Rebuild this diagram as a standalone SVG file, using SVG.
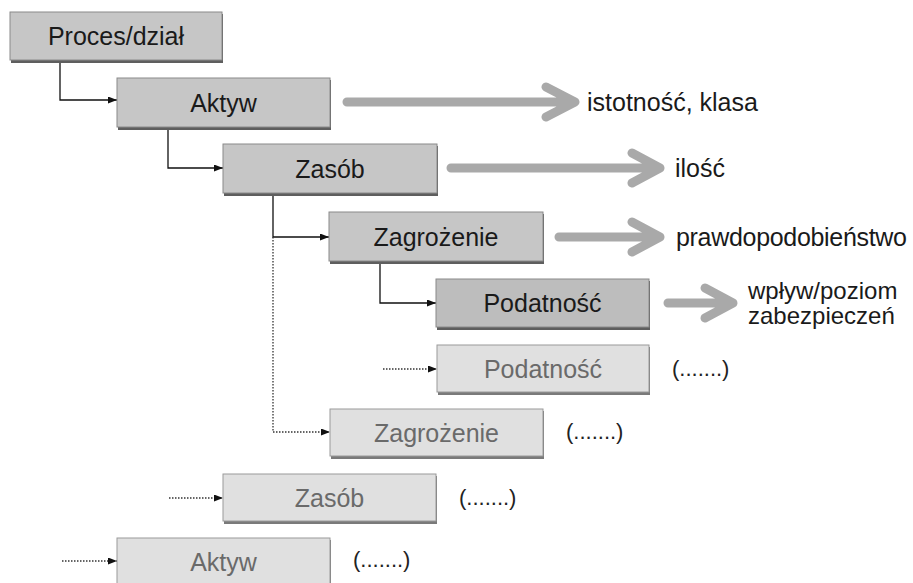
<svg xmlns="http://www.w3.org/2000/svg" width="913" height="583" viewBox="0 0 913 583">
<defs>
<style>
.box{fill:#c6c6c6;stroke:#8a8a8a;stroke-width:1}
.boxd{fill:#bdbdbd;stroke:#8a8a8a;stroke-width:1}
.boxf{fill:#e0e0e0;stroke:#9a9a9a;stroke-width:1}
.shadow{fill:#5e5e5e}
.shadowf{fill:#7a7a7a}
.t{font-family:"Liberation Sans",Arial,sans-serif;font-size:25px;fill:#1a1a1a;text-anchor:middle}
.tf{font-family:"Liberation Sans",Arial,sans-serif;font-size:25px;fill:#6a6a6a;text-anchor:middle}
.lbl{font-family:"Liberation Sans",Arial,sans-serif;font-size:25px;fill:#1a1a1a}
.lbl2{font-family:"Liberation Sans",Arial,sans-serif;font-size:24px;fill:#1a1a1a}
.dots{font-family:"Liberation Sans",Arial,sans-serif;font-size:22px;fill:#222}
.c{fill:none;stroke:#111;stroke-width:1.3}
.cd{fill:none;stroke:#333;stroke-width:1.3;stroke-dasharray:1.5 1.5}
.big{fill:none;stroke:#a9a9a9;stroke-width:9;stroke-linecap:round;stroke-linejoin:round}
</style>
<marker id="ah" markerWidth="9" markerHeight="7" refX="9" refY="3.5" orient="auto" markerUnits="userSpaceOnUse">
<path d="M0,0 L9,3.5 L0,7 z" fill="#111"/>
</marker>
</defs>
<rect width="913" height="583" fill="#fff"/>

<g id="connectors">
<path class="c" d="M60,61 V100 H117" marker-end="url(#ah)"/>
<path class="c" d="M168,128 V168 H223" marker-end="url(#ah)"/>
<path class="c" d="M273,194 V237 H329" marker-end="url(#ah)"/>
<path class="c" d="M380,262 V303 H436" marker-end="url(#ah)"/>
<path class="cd" d="M273,237 V432 H330" marker-end="url(#ah)"/>
<path class="cd" d="M383,369 H437" marker-end="url(#ah)"/>
<path class="cd" d="M169,498 H223" marker-end="url(#ah)"/>
<path class="cd" d="M62,561 H117" marker-end="url(#ah)"/>
</g>

<g id="attribute-arrows">
<path class="big" d="M347,102 H574 M546,87 L575,102 L546,117"/>
<path class="big" d="M451,168 H659 M632,153 L660,168 L632,183"/>
<path class="big" d="M559,237 H659 M632,222 L660,237 L632,252"/>
<path class="big" d="M668,303 H732 M705,288 L733,303 L705,318"/>
</g>

<g id="n-proces">
<rect class="shadow" x="11" y="14" width="212" height="49"/>
<rect class="box" x="10" y="12" width="212" height="48"/>
<text class="t" x="116" y="45">Proces/dział</text>
</g>
<g id="n-aktyw">
<rect class="shadow" x="118" y="80" width="213" height="50"/>
<rect class="box" x="117" y="78" width="213" height="49"/>
<text class="t" x="223.5" y="112">Aktyw</text>
</g>
<g id="n-zasob">
<rect class="shadow" x="224" y="146" width="214" height="50"/>
<rect class="box" x="223" y="144" width="214" height="49"/>
<text class="t" x="330" y="178">Zasób</text>
</g>
<g id="n-zagrozenie">
<rect class="shadow" x="330" y="214" width="214" height="50"/>
<rect class="box" x="329" y="212" width="214" height="49"/>
<text class="t" x="436" y="246">Zagrożenie</text>
</g>
<g id="n-podatnosc">
<rect class="shadow" x="437" y="281" width="213" height="49"/>
<rect class="boxd" x="436" y="279" width="213" height="48"/>
<text class="t" x="542.5" y="312">Podatność</text>
</g>
<g id="n-podatnosc-2">
<rect class="shadowf" x="438" y="347" width="212" height="48"/>
<rect class="boxf" x="437" y="345" width="212" height="47"/>
<text class="tf" x="543" y="378">Podatność</text>
</g>
<g id="n-zagrozenie-2">
<rect class="shadowf" x="331" y="411" width="213" height="48"/>
<rect class="boxf" x="330" y="409" width="213" height="47"/>
<text class="tf" x="436.5" y="442">Zagrożenie</text>
</g>
<g id="n-zasob-2">
<rect class="shadowf" x="224" y="476" width="213" height="48"/>
<rect class="boxf" x="223" y="474" width="213" height="47"/>
<text class="tf" x="329.5" y="507">Zasób</text>
</g>
<g id="n-aktyw-2">
<rect class="shadowf" x="118" y="540" width="213" height="48"/>
<rect class="boxf" x="117" y="538" width="213" height="47"/>
<text class="tf" x="223.5" y="571">Aktyw</text>
</g>

<g id="labels">
<text class="lbl" x="587" y="111">istotność, klasa</text>
<text class="lbl" x="675" y="177">ilość</text>
<text class="lbl" x="676" y="246" textLength="231">prawdopodobieństwo</text>
<text class="lbl2" x="748" y="299">wpływ/poziom</text>
<text class="lbl2" x="748" y="324">zabezpieczeń</text>
<text class="dots" x="672" y="376">(.......)</text>
<text class="dots" x="566" y="439">(.......)</text>
<text class="dots" x="459" y="505">(.......)</text>
<text class="dots" x="353" y="567">(.......)</text>
</g>
</svg>
